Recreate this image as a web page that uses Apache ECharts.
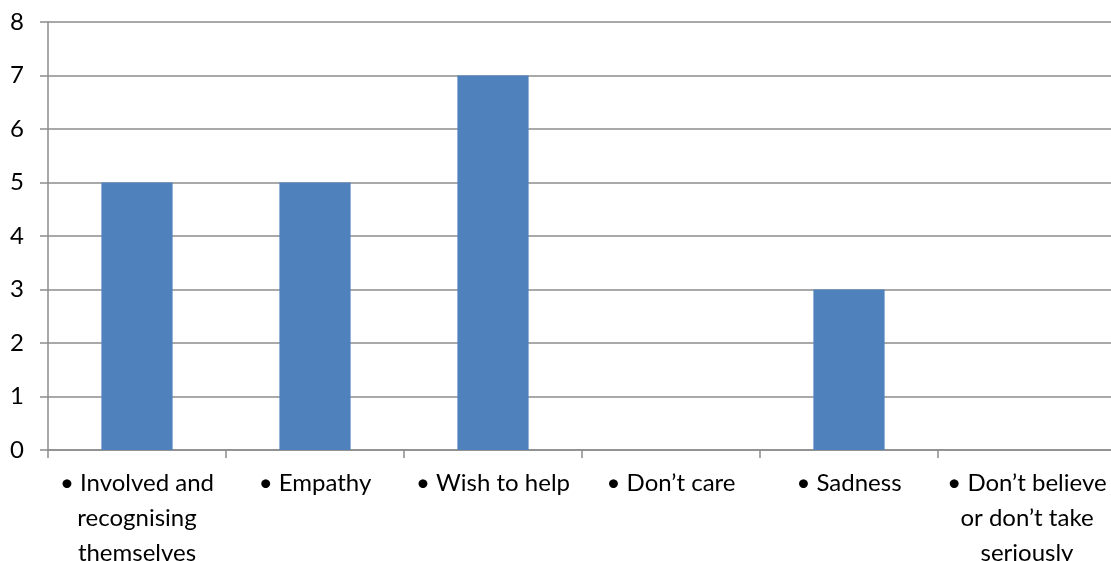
<!DOCTYPE html>
<html>
<head>
<meta charset="utf-8">
<script src="https://cdn.jsdelivr.net/npm/echarts@6/dist/echarts.min.js"></script>
<style>html,body{margin:0;padding:0;background:#fff}#c{width:1111px;height:561px}</style>
</head>
<body>
<div id="c"></div>
<script>
var categories = ['• Involved and\nrecognising\nthemselves', '• Empathy', '• Wish to help', '• Don\u2019t care', '• Sadness', '• Don\u2019t believe\nor don\u2019t take\nseriously'];
var values = [5, 5, 7, 0, 3, 0];
var yTicks = [0, 8, 1];

var chart = echarts.init(document.getElementById('c'));
var font = 'Lato, "Open Sans", sans-serif';
chart.setOption({
  animation: false,
  grid: {left: 48, top: 22, width: 1068, height: 428, containLabel: false, outerBoundsMode: 'none'},
  xAxis: {
    type: 'category',
    data: categories,
    axisLine: {lineStyle: {color: '#8c8c8c', width: 1.5}},
    axisTick: {show: true, length: 8, alignWithLabel: false, lineStyle: {color: '#8c8c8c', width: 1.5}},
    axisLabel: {interval: 0, margin: 16, color: '#000', fontFamily: font, fontSize: 24, lineHeight: 35, align: 'center'},
    splitLine: {show: false}
  },
  yAxis: {
    type: 'value',
    min: yTicks[0], max: yTicks[1], interval: yTicks[2],
    axisLine: {show: true, lineStyle: {color: '#8c8c8c', width: 1.5}},
    axisTick: {show: true, length: 8, lineStyle: {color: '#8c8c8c', width: 1.5}},
    axisLabel: {margin: 24, color: '#000', fontFamily: font, fontSize: 24},
    splitLine: {show: true, lineStyle: {color: '#8c8c8c', width: 1.5}}
  },
  series: [{
    type: 'bar',
    data: values,
    barWidth: '40%',
    itemStyle: {color: '#4F81BD'}
  }]
});
</script>
</body>
</html>
